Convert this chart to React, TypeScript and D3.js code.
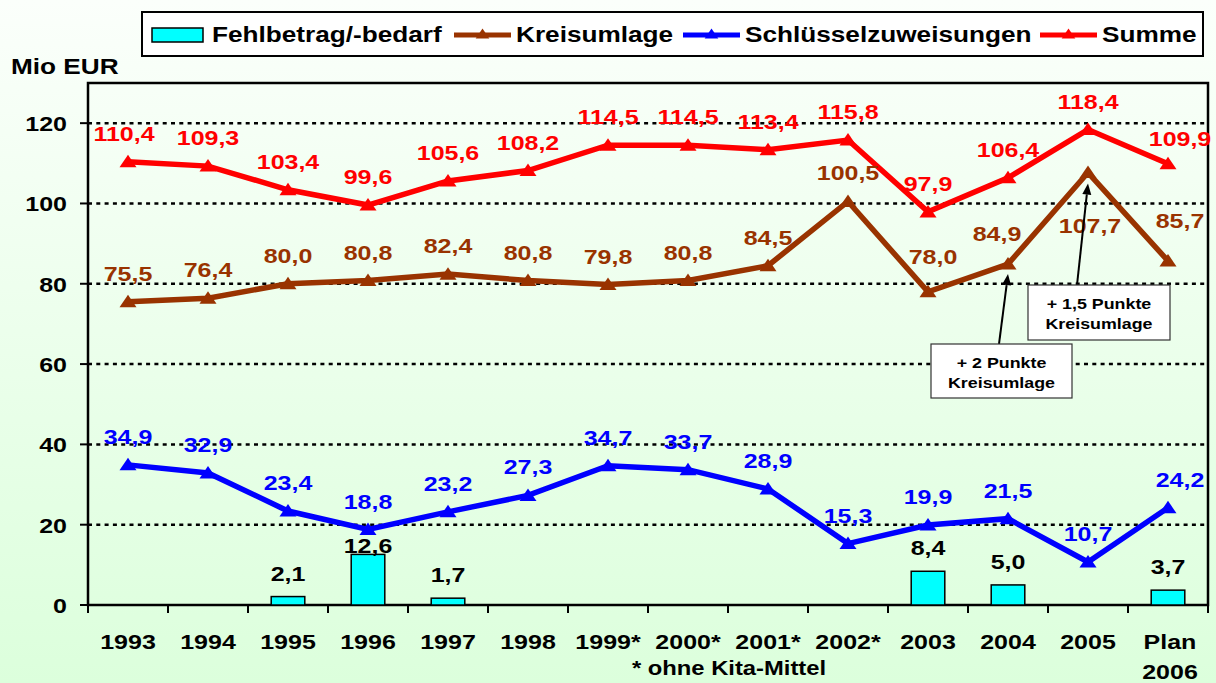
import * as d3 from 'd3';

// categories and values
const years = ['1993', '1994', '1995', '1996', '1997', '1998', '1999*', '2000*', '2001*', '2002*', '2003', '2004', '2005', 'Plan 2006'];
const fehlbetrag: (number | null)[] = [null, null, 2.1, 12.6, 1.7, null, null, null, null, null, 8.4, 5.0, null, 3.7];
const kreisumlage = [75.5, 76.4, 80.0, 80.8, 82.4, 80.8, 79.8, 80.8, 84.5, 100.5, 78.0, 84.9, 107.7, 85.7];
const schluessel = [34.9, 32.9, 23.4, 18.8, 23.2, 27.3, 34.7, 33.7, 28.9, 15.3, 19.9, 21.5, 10.7, 24.2];
const summe = [110.4, 109.3, 103.4, 99.6, 105.6, 108.2, 114.5, 114.5, 113.4, 115.8, 97.9, 106.4, 118.4, 109.9];
const yTicks = [0, 20, 40, 60, 80, 100, 120];

const W = 1216;
const H = 683;
const PLOT = { left: 88, right: 1208, top: 83, bottom: 605 };
const FONT = '"Liberation Sans", Arial, Helvetica, sans-serif';
const SX = 1.19; // the source text is a little wide

const series = [
  { name: 'Kreisumlage', values: kreisumlage, color: '#993300' },
  { name: 'Schlüsselzuweisungen', values: schluessel, color: '#0000ff' },
  { name: 'Summe', values: summe, color: '#ff0000' },
];

// hand placed labels in the source, [dx, dy]
const labelNudge: Record<string, [number, number]> = {
  'Kreisumlage-10': [5, -7],
  'Kreisumlage-11': [-11, -2],
  'Kreisumlage-12': [2, 81],
  'Kreisumlage-13': [12, -12],
  'Schlüsselzuweisungen-13': [12, 0],
  'Summe-13': [12, 3],
  'Summe-0': [-4, 0],
  'Fehlbetrag-3': [0, 15],
};

const fmt = (v: number) => d3.format('.1f')(v).replace('.', ',');
const TRI = 'M0,-7L8.5,5.5L-8.5,5.5Z';

function T({ x, y, anchor = 'middle', size = 21, fill = '#000', children }: {
  x: number; y: number; anchor?: string; size?: number; fill?: string; children: React.ReactNode;
}) {
  return (
    <text
      transform={`translate(${x},${y}) scale(${SX},1)`}
      textAnchor={anchor}
      fontSize={size}
      fontWeight="bold"
      fontFamily={FONT}
      fill={fill}
    >
      {children}
    </text>
  );
}

function Callout({ box, lines, from, to }: {
  box: [number, number, number, number]; lines: string[]; from: [number, number]; to: [number, number];
}) {
  const [x, y, w, h] = box;
  const ang = Math.atan2(to[1] - from[1], to[0] - from[0]);
  const len = 11;
  const half = 4.5;
  const bx = to[0] - len * Math.cos(ang);
  const by = to[1] - len * Math.sin(ang);
  const head = [
    [to[0], to[1]],
    [bx + half * Math.sin(ang), by - half * Math.cos(ang)],
    [bx - half * Math.sin(ang), by + half * Math.cos(ang)],
  ];
  return (
    <g>
      <line x1={from[0]} y1={from[1]} x2={bx} y2={by} stroke="#000" strokeWidth={2} />
      <polygon points={head.map((p) => p.join(',')).join(' ')} fill="#000" />
      <rect x={x} y={y} width={w} height={h} fill="#fff" stroke="#333" strokeWidth={1.2} />
      {lines.map((l, i) => (
        <T key={l} x={x + w / 2} y={y + 24 + i * 20} size={15}>{l}</T>
      ))}
    </g>
  );
}

export default function App() {
  const x = d3.scaleBand().domain(years).range([PLOT.left, PLOT.right]).padding(0);
  const y = d3.scaleLinear().domain([0, 130]).range([PLOT.bottom, PLOT.top]);
  const bw = x.bandwidth();
  const cx = (i: number) => (x(years[i]) ?? 0) + bw / 2;
  const barW = bw * 0.42;

  const line = d3
    .line<number>()
    .x((_, i) => cx(i))
    .y((d) => y(d));

  const legendLines = [
    { name: 'Kreisumlage', color: '#993300', x0: 454 },
    { name: 'Schlüsselzuweisungen', color: '#0000ff', x0: 683 },
    { name: 'Summe', color: '#ff0000', x0: 1040 },
  ];

  const tipK04: [number, number] = [cx(11), y(kreisumlage[11]) + 10];
  const tipK05: [number, number] = [cx(12), y(kreisumlage[12]) + 11];

  return (
    <svg
      width={W}
      height={H}
      viewBox={`0 0 ${W} ${H}`}
      style={{ position: 'absolute', left: 0, top: 0, display: 'block' }}
    >
      <defs>
        <linearGradient id="bg" x1="0" y1="0" x2="0" y2="1">
          <stop offset="0" stopColor="#fbfffb" />
          <stop offset="1" stopColor="#dcffdc" />
        </linearGradient>
      </defs>
      <rect width={W} height={H} fill="url(#bg)" />

      {/* legend */}
      <rect x={142} y={12} width={1061} height={44} fill="#fff" stroke="#000" strokeWidth={2} />
      <rect x={152} y={28} width={51} height={14} fill="#00ffff" stroke="#000" strokeWidth={1.5} />
      <T x={212} y={42} anchor="start" size={22}>Fehlbetrag/-bedarf</T>
      {legendLines.map((l) => (
        <g key={l.name}>
          <line x1={l.x0} x2={l.x0 + 57} y1={35} y2={35} stroke={l.color} strokeWidth={5} />
          <path d={TRI} transform={`translate(${l.x0 + 28.5},34) scale(0.8)`} fill={l.color} />
          <T x={l.x0 + 62} y={42} anchor="start" size={22}>{l.name}</T>
        </g>
      ))}

      <T x={11} y={74} anchor="start" size={22}>Mio EUR</T>

      {/* grid */}
      {yTicks.filter((t) => t > 0).map((t) => (
        <line
          key={t}
          x1={PLOT.left}
          x2={PLOT.right}
          y1={y(t)}
          y2={y(t)}
          stroke="#000"
          strokeWidth={2.5}
          strokeDasharray="4,4.3"
        />
      ))}

      {/* frame */}
      <rect
        x={PLOT.left}
        y={PLOT.top}
        width={PLOT.right - PLOT.left}
        height={PLOT.bottom - PLOT.top}
        fill="none"
        stroke="#000"
        strokeWidth={2.5}
      />

      {/* y axis */}
      {yTicks.map((t) => (
        <g key={t}>
          <line x1={PLOT.left - 8} x2={PLOT.left} y1={y(t)} y2={y(t)} stroke="#000" strokeWidth={2} />
          <T x={67} y={y(t) + 8} anchor="end">{t}</T>
        </g>
      ))}

      {/* x axis */}
      {years.map((yr) => (
        <line
          key={yr}
          x1={x(yr)}
          x2={x(yr)}
          y1={PLOT.bottom}
          y2={PLOT.bottom + 8}
          stroke="#000"
          strokeWidth={2}
        />
      ))}
      <line x1={PLOT.right} x2={PLOT.right} y1={PLOT.bottom} y2={PLOT.bottom + 8} stroke="#000" strokeWidth={2} />
      {years.map((yr, i) =>
        yr.split(' ').map((part, j) => (
          <T key={yr + j} x={cx(i) + (yr.includes(' ') ? 2 : 0)} y={649 + j * 30}>{part}</T>
        ))
      )}
      <T x={729} y={675} size={20}>* ohne Kita-Mittel</T>

      {/* bars */}
      {fehlbetrag.map((v, i) =>
        v == null ? null : (
          <rect
            key={years[i]}
            x={cx(i) - barW / 2}
            y={y(v)}
            width={barW}
            height={y(0) - y(v)}
            fill="#00ffff"
            stroke="#000"
            strokeWidth={1.5}
          />
        )
      )}

      {/* lines */}
      {series.map((s) => (
        <g key={s.name}>
          <path d={line(s.values) ?? ''} fill="none" stroke={s.color} strokeWidth={5.5} strokeLinejoin="miter" />
          {s.values.map((v, i) => (
            <path key={i} d={TRI} transform={`translate(${cx(i)},${y(v)})`} fill={s.color} />
          ))}
        </g>
      ))}

      {/* data labels */}
      {series.map((s) =>
        s.values.map((v, i) => {
          const [dx, dy] = labelNudge[`${s.name}-${i}`] ?? [0, 0];
          return (
            <T key={s.name + i} x={cx(i) + dx} y={y(v) - 21 + dy} fill={s.color}>
              {fmt(v)}
            </T>
          );
        })
      )}
      {fehlbetrag.map((v, i) => {
        if (v == null) return null;
        const [dx, dy] = labelNudge[`Fehlbetrag-${i}`] ?? [0, 0];
        return (
          <T key={'f' + i} x={cx(i) + dx} y={y(v) - 16 + dy}>{fmt(v)}</T>
        );
      })}

      {/* callouts */}
      <Callout
        box={[1028, 285, 142, 55]}
        lines={['+ 1,5 Punkte', 'Kreisumlage']}
        from={[1077, 285]}
        to={tipK05}
      />
      <Callout
        box={[931, 344, 141, 54]}
        lines={['+ 2 Punkte', 'Kreisumlage']}
        from={[999, 344]}
        to={tipK04}
      />
    </svg>
  );
}
